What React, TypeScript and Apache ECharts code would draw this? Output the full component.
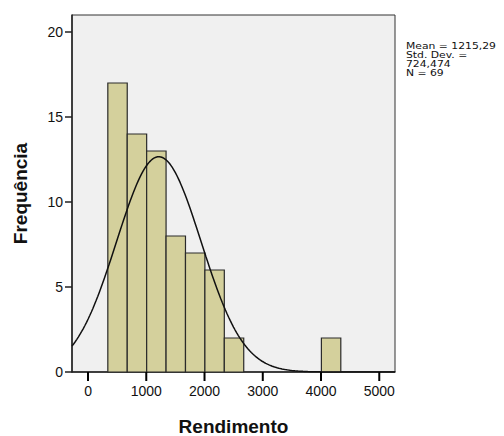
import React, { useEffect, useRef } from "react";
import * as echarts from "echarts";

// Histogram data
const binStart = 340;
const binWidth = 333.3;
const counts = [17, 14, 13, 8, 7, 6, 2, 0, 0, 0, 0, 2];
const xTicks = [0, 1000, 2000, 3000, 4000, 5000];
const yTicks = [0, 5, 10, 15, 20];
const statsMean = 1215.29;
const statsSD = 724.474;
const statsN = 69;
const statsLines = ["Mean = 1215,29", "Std. Dev. =", "724,474", "N = 69"];

const xMin = -275;
const xMax = 5270;

export default function App() {
  const ref = useRef<HTMLDivElement>(null);
  useEffect(() => {
    if (!ref.current) return;
    const chart = echarts.init(ref.current, undefined, { renderer: "svg" });

    const bars = counts
      .map((c, i) => [binStart + i * binWidth, binStart + (i + 1) * binWidth, c])
      .filter((d) => d[2] > 0);

    // fitted normal curve from the stated mean / sd / N
    const curve: number[][] = [];
    const steps = 200;
    for (let k = 0; k <= steps; k++) {
      const x = xMin + ((xMax - xMin) * k) / steps;
      const z = (x - statsMean) / statsSD;
      const y = ((statsN * binWidth) / (statsSD * Math.sqrt(2 * Math.PI))) * Math.exp(-0.5 * z * z);
      curve.push([x, y]);
    }

    const font = "'Liberation Sans', Arial, sans-serif";

    chart.setOption({
      animation: false,
      backgroundColor: "#ffffff",
      grid: {
        left: 72,
        top: 15,
        right: 109,
        bottom: 64,
        outerBoundsMode: "none",
        containLabel: false,
        show: true,
        backgroundColor: "#f0f0f0",
        borderColor: "#333333",
        borderWidth: 1,
      },
      xAxis: {
        type: "value",
        min: xMin,
        max: xMax,
        name: "Rendimento",
        nameLocation: "middle",
        nameGap: 45,
        nameTextStyle: { fontFamily: font, fontWeight: "bold", fontSize: 19, color: "#111" },
        axisLine: { show: true, onZero: false, lineStyle: { color: "#222", width: 1.5 } },
        axisTick: { show: false },
        axisLabel: {
          customValues: xTicks,
          formatter: (v: number) => String(v),
          fontFamily: font,
          fontSize: 14,
          color: "#111",
          margin: 12,
        },
        splitLine: { show: false },
      },
      yAxis: {
        type: "value",
        min: 0,
        max: 21,
        name: "Frequência",
        nameLocation: "middle",
        nameGap: 42,
        nameTextStyle: { fontFamily: font, fontWeight: "bold", fontSize: 19, color: "#111" },
        axisLine: { show: true, onZero: false, lineStyle: { color: "#222", width: 1.5 } },
        axisTick: { show: true, customValues: yTicks, length: 7, lineStyle: { color: "#222", width: 1.5 } },
        axisLabel: {
          customValues: yTicks,
          formatter: (v: number) => String(v),
          fontFamily: font,
          fontSize: 14,
          color: "#111",
          margin: 9,
        },
        splitLine: { show: false },
      },
      series: [
        {
          type: "custom",
          data: bars,
          encode: { x: [0, 1], y: 2 },
          renderItem: (params: any, api: any) => {
            const p0 = api.coord([api.value(0), api.value(2)]);
            const p1 = api.coord([api.value(1), 0]);
            return {
              type: "rect",
              shape: { x: p0[0], y: p0[1], width: p1[0] - p0[0], height: p1[1] - p0[1] },
              style: { fill: "#d4d09c", stroke: "#2a2a2a", lineWidth: 1.2 },
            };
          },
          z: 2,
        },
        {
          type: "line",
          data: curve,
          showSymbol: false,
          smooth: false,
          lineStyle: { color: "#111", width: 1.5 },
          z: 3,
        },
        {
          // x-axis tick marks: one short vertical line per tick value, below the axis
          type: "custom",
          data: xTicks.map((v) => [v, 0]),
          encode: { x: 0, y: 1 },
          clip: false,
          renderItem: (params: any, api: any) => {
            const p = api.coord([api.value(0), api.value(1)]);
            return {
              type: "polyline",
              shape: { points: [[p[0], p[1]], [p[0], p[1] + 9]] },
              style: { stroke: "#000000", lineWidth: 2, fill: "none" },
            };
          },
          z: 50,
        },
      ],
      graphic: [
        {
          type: "text",
          x: 406,
          y: 41,
          scaleX: 1.2,
          style: {
            text: statsLines.join("\n"),
            fontFamily: "'DejaVu Sans', sans-serif",
            fontSize: 9,
            lineHeight: 9,
            fill: "#111",
          },
        },
      ],
    });

    return () => chart.dispose();
  }, []);
  return <div ref={ref} style={{ width: 504, height: 436, position: "absolute", left: 0, top: 0 }} />;
}
